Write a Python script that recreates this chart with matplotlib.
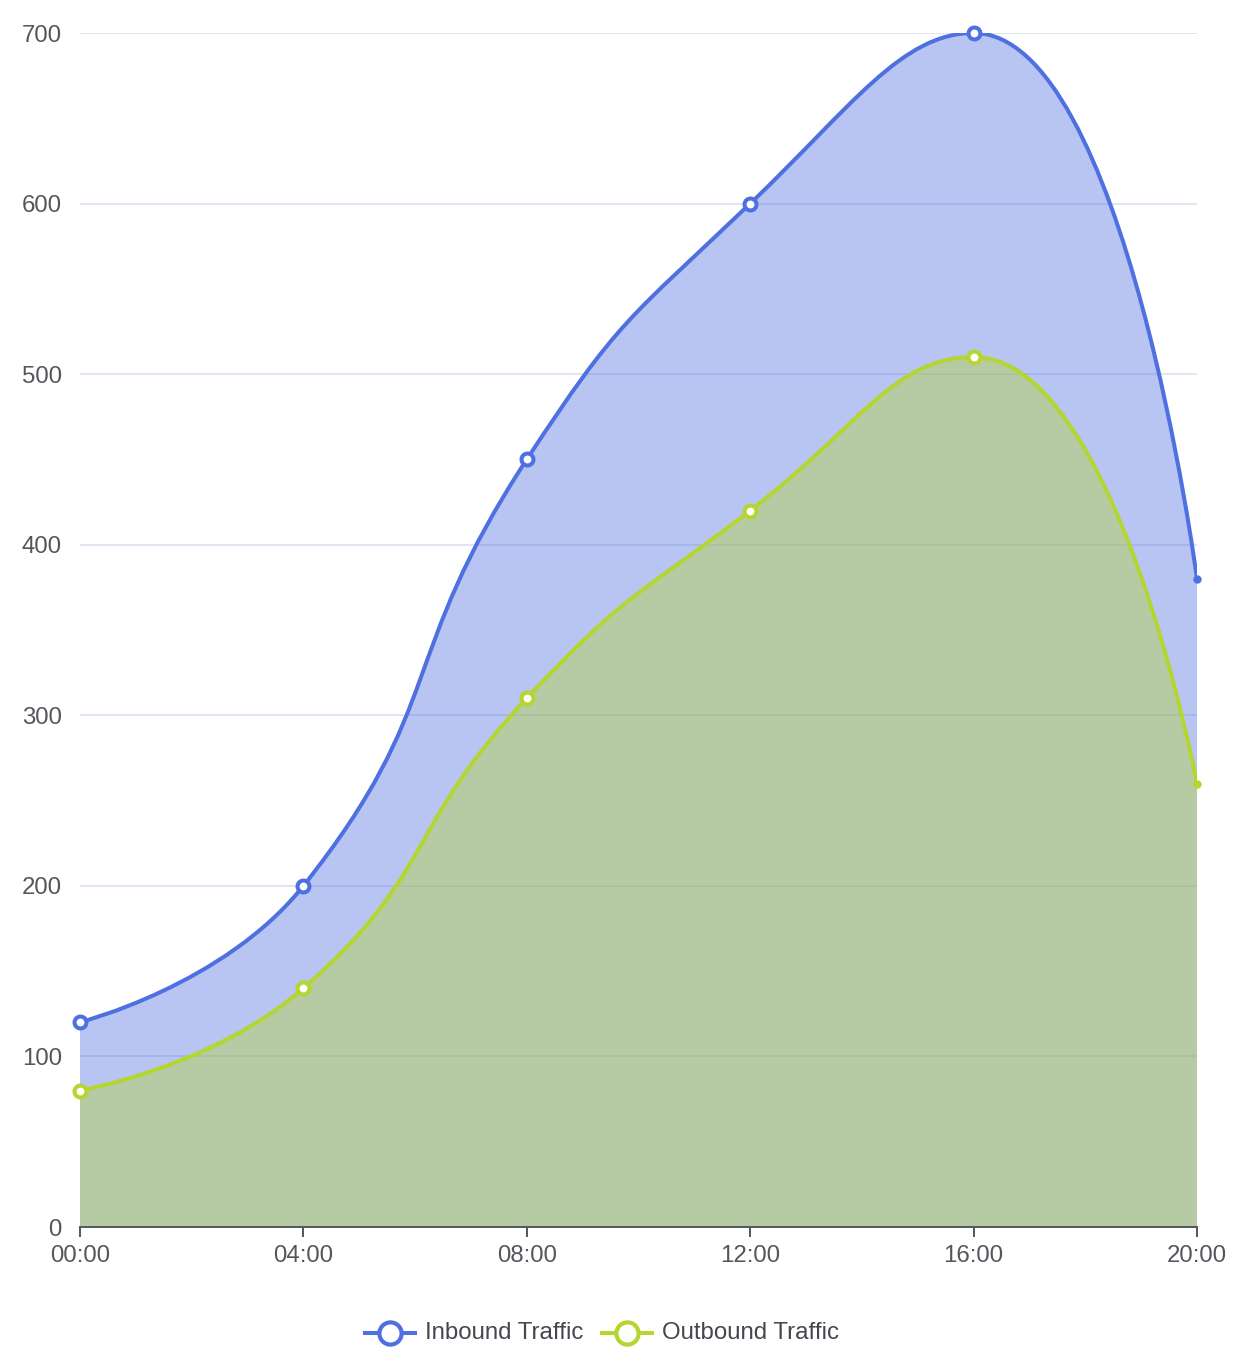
import matplotlib.pyplot as plt
import numpy as np
from matplotlib.path import Path
from matplotlib.patches import PathPatch
from matplotlib.lines import Line2D

plt.rcParams['font.family'] = ['Liberation Sans', 'DejaVu Sans']

hours = ['00:00', '04:00', '08:00', '12:00', '16:00', '20:00']
inbound = [120, 200, 450, 600, 700, 380]
outbound = [80, 140, 310, 420, 510, 260]

series_names = ['Inbound Traffic', 'Outbound Traffic']
series_colors = ['#4e70e0', '#b5d530']
axis_color = '#55565c'

W, H = 1251, 1371


def smoothPath(px, py, smooth=0.5):
    # bezier control points the way echarts does it for smooth: true
    verts = [(px[0], py[0])]
    n = len(px)
    cpx0, cpy0 = px[0], py[0]
    for i in range(1, n):
        x, y = px[i], py[i]
        prevX, prevY = px[i - 1], py[i - 1]
        if i == n - 1:
            cpx1, cpy1 = x, y
            nextCpx0, nextCpy0 = x, y
        else:
            nextX, nextY = px[i + 1], py[i + 1]
            vx = nextX - prevX
            vy = nextY - prevY
            lenPrev = np.hypot(x - prevX, y - prevY)
            lenNext = np.hypot(nextX - x, nextY - y)
            ratio = lenNext / (lenNext + lenPrev)
            nextCpx0 = x + vx * smooth * ratio
            nextCpy0 = y + vy * smooth * ratio
            nextCpx0 = min(nextCpx0, max(nextX, x))
            nextCpy0 = min(nextCpy0, max(nextY, y))
            nextCpx0 = max(nextCpx0, min(nextX, x))
            nextCpy0 = max(nextCpy0, min(nextY, y))
            vx = nextCpx0 - x
            vy = nextCpy0 - y
            cpx1 = x - vx * lenPrev / lenNext
            cpy1 = y - vy * lenPrev / lenNext
            cpx1 = min(cpx1, max(prevX, x))
            cpy1 = min(cpy1, max(prevY, y))
            cpx1 = max(cpx1, min(prevX, x))
            cpy1 = max(cpy1, min(prevY, y))
            vx = x - cpx1
            vy = y - cpy1
            nextCpx0 = x + vx * lenNext / lenPrev
            nextCpy0 = y + vy * lenNext / lenPrev
        verts += [(cpx0, cpy0), (cpx1, cpy1), (x, y)]
        cpx0, cpy0 = nextCpx0, nextCpy0
    return verts


fig = plt.figure(figsize=(W / 100, H / 100), dpi=100)
ax = fig.add_axes([80 / W, 144 / H, 1117 / W, 1194 / H])
ax.set_xlim(0, len(hours) - 1)
ax.set_ylim(0, 700)

xs = np.arange(len(hours))
for vals, color, z in zip([inbound, outbound], series_colors, [2, 3]):
    disp = ax.transData.transform(np.column_stack([xs, vals]))
    verts = smoothPath(disp[:, 0], disp[:, 1])
    verts = ax.transData.inverted().transform(np.array(verts))
    codes = [Path.MOVETO] + [Path.CURVE4] * (len(verts) - 1)
    area_verts = list(verts) + [(xs[-1], 0), (xs[0], 0), (xs[0], 0)]
    area_codes = codes + [Path.LINETO, Path.LINETO, Path.CLOSEPOLY]
    ax.add_patch(PathPatch(Path(area_verts, area_codes), facecolor=color,
                           alpha=0.4, edgecolor='none', zorder=z))
    ax.add_patch(PathPatch(Path(verts, codes), facecolor='none',
                           edgecolor=color, lw=2.9, zorder=z + 0.5))

for vals, color in zip([inbound, outbound], series_colors):
    ax.plot(xs[:-1], vals[:-1], 'o', ms=8.6, mfc='white', mec=color,
            mew=2.9, zorder=10, clip_on=False)
    ax.plot(xs[-1], vals[-1], 'o', ms=5, color=color, zorder=10, clip_on=False)

ax.set_yticks(range(0, 701, 100))
ax.set_xticks(xs)
ax.set_xticklabels(hours)
ax.yaxis.grid(True, color='#e0e6f1', lw=1.4)
ax.set_axisbelow(True)
for s in ['top', 'right', 'left']:
    ax.spines[s].set_visible(False)
ax.spines['bottom'].set_color(axis_color)
ax.spines['bottom'].set_linewidth(1.4)
ax.spines['bottom'].set_zorder(12)
ax.tick_params(axis='y', length=0, pad=13, labelsize=17.3, labelcolor=axis_color)
ax.tick_params(axis='x', length=7, width=1.4, color=axis_color, pad=6,
               labelsize=17.3, labelcolor=axis_color)

# legend
ly = (H - 1333) / H
for name, color, x0 in zip(series_names, series_colors, [365, 602]):
    fig.add_artist(Line2D([x0 / W, (x0 + 50) / W], [ly, ly], color=color,
                          lw=2.9, transform=fig.transFigure))
    fig.add_artist(Line2D([(x0 + 25) / W], [ly], marker='o', ms=16,
                          mfc='white', mec=color, mew=3,
                          transform=fig.transFigure))
    fig.text((x0 + 60) / W, ly, name, fontsize=17.3, color='#46464e',
             va='center', ha='left')

fig.savefig('out.png', dpi=100)
